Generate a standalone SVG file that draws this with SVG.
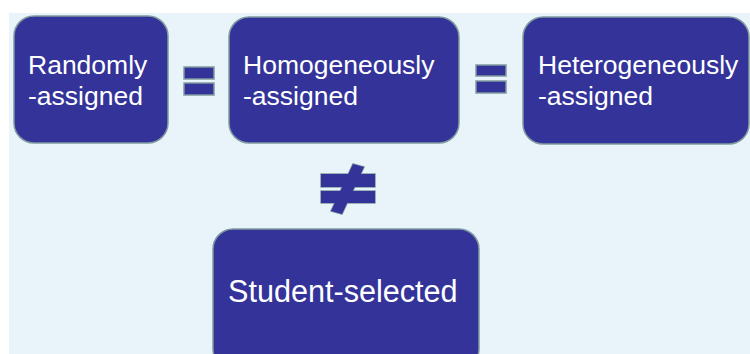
<svg xmlns="http://www.w3.org/2000/svg" width="750" height="354" viewBox="0 0 750 354">
<style>
.box{fill:#333399;stroke:#809a9e;stroke-width:1.5}
.sym{fill:#333399;stroke:#809a9e;stroke-width:1.5}
.fill{fill:#333399;stroke:none}
.t{font-family:"Liberation Sans",Arial,sans-serif;fill:#ffffff;font-size:26.5px}
.big{font-size:30.6px}
</style>
<defs>
<g id="neqshape">
<rect x="321" y="174" width="54" height="13"/>
<rect x="321" y="191" width="54" height="12"/>
<polygon points="353,164 364,167 342,214 331,211"/>
</g>
</defs>
<rect x="0" y="0" width="750" height="354" fill="#ffffff"/>
<rect x="9" y="13" width="741" height="341" fill="#e8f4fa"/>
<g id="randomly">
<rect class="box" x="14" y="16" width="154" height="127" rx="20"/>
<text class="t" x="28" y="74">Randomly</text>
<text class="t" x="28" y="105">-assigned</text>
</g>
<g id="homogeneously">
<rect class="box" x="229" y="17" width="230" height="126" rx="20"/>
<text class="t" x="243" y="74">Homogeneously</text>
<text class="t" x="243" y="105">-assigned</text>
</g>
<g id="heterogeneously">
<rect class="box" x="523" y="17" width="226" height="127" rx="20"/>
<text class="t" x="538" y="74">Heterogeneously</text>
<text class="t" x="538" y="105">-assigned</text>
</g>
<g id="student">
<rect class="box" x="213" y="229" width="266" height="140" rx="20"/>
<text class="t big" x="228" y="302">Student-selected</text>
</g>
<g id="connectors">
<g id="eq1">
<rect class="sym" x="184" y="67" width="30" height="12"/>
<rect class="sym" x="184" y="83" width="30" height="12"/>
</g>
<g id="eq2">
<rect class="sym" x="476" y="65" width="30" height="11"/>
<rect class="sym" x="476" y="81" width="30" height="12"/>
</g>
<g id="neq">
<use href="#neqshape" class="sym"/>
<use href="#neqshape" class="fill"/>
</g>
</g>
</svg>
